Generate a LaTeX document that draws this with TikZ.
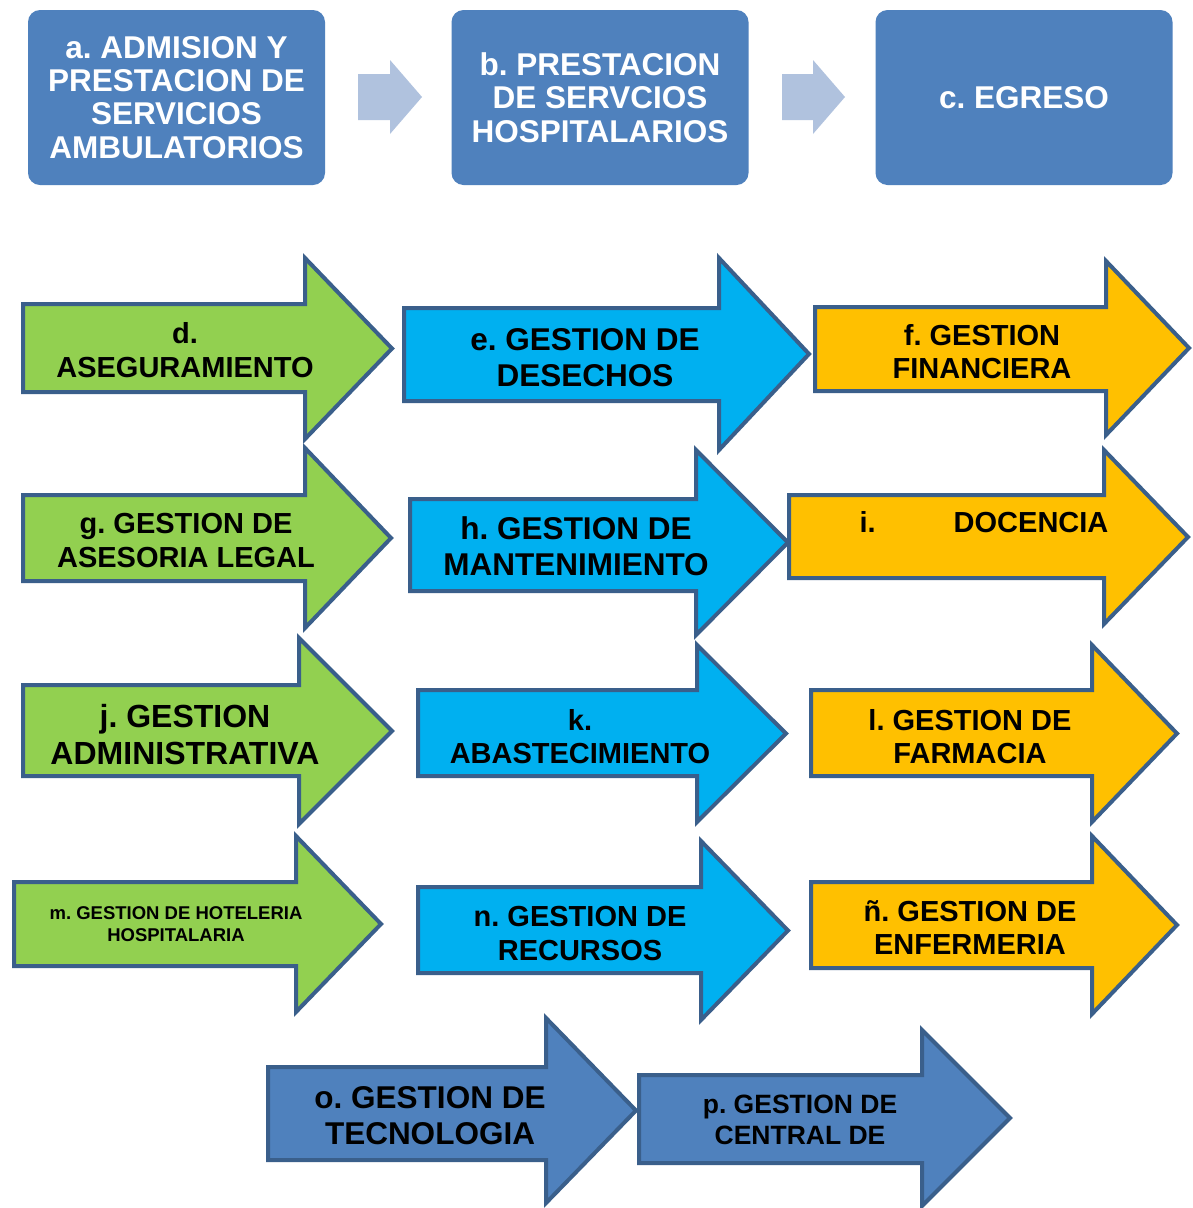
\documentclass[tikz,border=0pt]{standalone}
\usepackage{fontspec}
\setmainfont{Liberation Sans}
\frenchspacing
\definecolor{boxblue}{HTML}{4F81BD}
\definecolor{lightarr}{HTML}{B0C2DE}
\definecolor{agreen}{HTML}{92D050}
\definecolor{acyan}{HTML}{00B0F0}
\definecolor{aorange}{HTML}{FFC000}
\definecolor{aoutline}{HTML}{3A5F8B}
% #1 style, #2 x0, #3 head base x, #4 tip x, #5 shaft top, #6 shaft bottom, #7 head top, #8 head bottom
\newcommand{\blockarrow}[8]{%
  \draw[#1] (#2,#5) -- (#3,#5) -- (#3,#7) -- (#4,{(#7+#8)/2}) -- (#3,#8) -- (#3,#6) -- (#2,#6) -- cycle;}
\tikzset{
  topbox/.style={fill=boxblue, rounded corners=12pt, minimum width=297pt, minimum height=175pt,
    text=white, align=center, inner sep=0pt, font=\bfseries\fontsize{31.5}{33.3}\selectfont},
  lightarrow/.style={fill=lightarr, draw=none},
  outl/.style={draw=aoutline, line width=4pt, line join=miter},
  greenarr/.style={outl, fill=agreen},
  cyanarr/.style={outl, fill=acyan},
  orangearr/.style={outl, fill=aorange},
  bluearr/.style={outl, fill=boxblue},
  lbl/.style={align=center, text=black, inner sep=0pt, font=\bfseries\fontsize{29}{33.5}\selectfont},
  lblbig/.style={lbl, font=\bfseries\fontsize{31.5}{36}\selectfont},
  lblj/.style={lbl, font=\bfseries\fontsize{32}{37}\selectfont},
  lblsmall/.style={lbl, font=\bfseries\fontsize{18.5}{22}\selectfont},
  lblp/.style={lbl, font=\bfseries\fontsize{26.5}{31}\selectfont},
}
\begin{document}
\begin{tikzpicture}[x=1pt,y=-1pt]
\useasboundingbox (0,0) rectangle (1192,1208);
\fill[white] (0,0) rectangle (1192,1208);

% top row boxes
\node[topbox] (a) at (176.5,97.5) {a. ADMISION Y\\PRESTACION DE\\SERVICIOS\\AMBULATORIOS};
\node[topbox] (b) at (600,97.5) {b. PRESTACION\\DE SERVCIOS\\HOSPITALARIOS};
\node[topbox] (c) at (1024,97.5) {c. EGRESO};

% light arrows between top boxes
\blockarrow{lightarrow}{358}{390}{422}{74}{120}{60}{134}
\blockarrow{lightarrow}{782}{813}{845}{74}{120}{60}{134}

% row 1
\blockarrow{greenarr}{23}{305}{392}{304}{392}{258}{439}
\node[lbl] (d) at (185,350) {d.\\ASEGURAMIENTO};
\blockarrow{cyanarr}{404}{719}{809}{308}{401}{258}{450}
\node[lblbig] (e) at (585,357.5) {e. GESTION DE\\DESECHOS};
\blockarrow{orangearr}{815}{1106}{1189}{307}{391}{261}{435}
\node[lbl] (f) at (982,351.5) {f. GESTION\\FINANCIERA};

% row 2
\blockarrow{greenarr}{23}{305}{391}{495}{581}{448}{628}
\node[lbl] (g) at (186,540.5) {g. GESTION DE\\ASESORIA LEGAL};
\blockarrow{cyanarr}{410}{696}{788}{499}{591}{450}{635}
\node[lblbig] (h) at (576,546.5) {h. GESTION DE\\MANTENIMIENTO};
\blockarrow{orangearr}{789}{1104}{1188}{495}{578}{450}{624}
\node[lbl] (i) at (984,522) {i.\hspace{78pt}DOCENCIA};

% row 3
\blockarrow{greenarr}{23}{299}{392}{685}{776}{638}{824}
\node[lblj] (j) at (185,734.5) {j. GESTION\\ADMINISTRATIVA};
\blockarrow{cyanarr}{418}{697}{786}{690}{776}{645}{822}
\node[lbl] (k) at (580,736.5) {k.\\ABASTECIMIENTO};
\blockarrow{orangearr}{811}{1092}{1177}{690}{776}{645}{822}
\node[lbl] (l) at (970,736.5) {l. GESTION DE\\FARMACIA};

% row 4
\blockarrow{greenarr}{14}{296}{381}{882}{966}{836}{1012}
\node[lblsmall] (m) at (176,924) {m. GESTION DE HOTELERIA\\HOSPITALARIA};
\blockarrow{cyanarr}{418}{701}{788}{887}{973}{841}{1020}
\node[lbl] (n) at (580,933.5) {n. GESTION DE\\RECURSOS};
\blockarrow{orangearr}{811}{1092}{1177}{882}{968}{836}{1014}
\node[lbl] (nn) at (970,927.5) {ñ. GESTION DE\\ENFERMERIA};

% row 5
\blockarrow{bluearr}{268}{546}{636}{1067}{1160}{1018}{1203}
\node[lblbig] (o) at (430,1116) {o. GESTION DE\\TECNOLOGIA};
\blockarrow{bluearr}{639}{922}{1010}{1075}{1163}{1030}{1206}
\node[lblp] (p) at (800,1119.5) {p. GESTION DE\\CENTRAL DE};
\end{tikzpicture}
\end{document}
